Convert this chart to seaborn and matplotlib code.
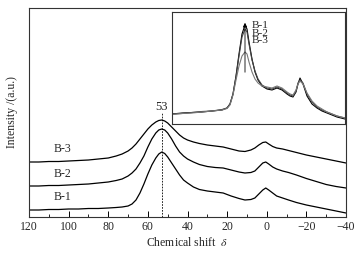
import numpy as np
import pandas as pd
import matplotlib
matplotlib.use("Agg")
import matplotlib.pyplot as plt
import seaborn as sns

# ---------------- data (main panel) ----------------
shift = [120, 115, 110, 105, 100, 95, 90, 85, 80,
         76, 73, 70, 68, 66, 64, 62, 60, 58, 56,
         54.5, 53, 51.5, 50, 48, 46, 44, 42, 40, 37,
         34, 30, 26, 22, 18, 14, 11, 8, 6, 4,
         2, 0.5, -1, -3, -5, -8, -11, -15, -20, -25,
         -30, -35, -40]
b1 = [7, 7, 7.5, 7.5, 8, 8, 8.5, 8.5, 9,
      9.5, 10, 11, 13, 17, 24, 33, 43, 52, 59,
      63, 65, 63.5, 60, 54, 48, 42, 37, 34, 30,
      27.5, 26, 25, 24, 21, 18.5, 17, 17.5, 19, 23,
      27, 29, 27, 24, 21, 19, 17, 14.5, 12, 10,
      8, 6, 4]
b2 = [31, 31, 31.5, 31.5, 32, 32.5, 33, 34, 35,
      36.5, 38, 41, 44, 48, 54, 61, 70, 78, 84,
      87, 88, 87, 84, 78, 71, 65, 61, 58, 55,
      52.5, 50.5, 49.5, 49, 47, 45, 44, 44.5, 46, 50,
      54, 55, 53, 50, 48, 46, 44.5, 42, 38.5, 35.5,
      32.5, 30.5, 29]
b3 = [55, 55, 55.5, 55.5, 56, 56.5, 57, 58, 59,
      61, 63, 66, 69, 73, 78, 83, 88, 92, 95,
      96.5, 97, 96, 94, 90, 86, 82, 79, 77, 75,
      73.5, 72, 71, 70, 68, 66, 65.5, 67, 69, 72,
      74.5, 75, 73, 70.5, 69, 68, 66.5, 64.5, 62, 60,
      58, 56, 54]
series_names = ["B-1", "B-2", "B-3"]
label_x = 103
label_y = [14, 37, 62]
peak_pos = 53
x_ticks = [120, 100, 80, 60, 40, 20, 0, -20, -40]
x_tick_labels = ["120", "100", "80", "60", "40", "20", "0", "\u221220", "\u221240"]

# ---------------- data (inset) ----------------
ins_x = [0, 10, 20, 30, 40, 50, 55, 58, 61, 64, 67, 70, 73, 75, 77, 80, 83, 86, 90, 95,
         100, 105, 110, 115, 118, 121, 124, 126, 128, 131, 135, 140, 145, 150, 155, 160, 165, 173]
ins_b1 = [10, 11, 11.5, 12, 13, 14, 16, 20, 30, 48, 70, 90, 99, 95, 82, 65, 52, 44, 38, 35,
          34, 36, 34, 30, 28, 27, 32, 40, 46, 40, 28, 20, 16, 13, 11, 9, 7, 5]
ins_b2 = [10, 10.5, 11.5, 12.5, 13, 14.5, 16, 20, 30, 47, 68, 87, 95, 92, 80, 64, 53, 45, 39, 36,
          35, 37, 35, 31, 29, 28, 33, 41, 44, 41, 30, 22, 17, 14, 12, 10, 8, 6]
ins_b3 = [9.5, 10.5, 11, 12, 13, 14, 15.5, 19, 29, 44, 58, 68, 72, 70, 62, 52, 45, 41, 38, 37,
          36, 38, 36, 32, 30, 29, 34, 40, 43, 40, 31, 23, 18, 15, 12, 10, 8, 6]
arrow_x = 73
arrow_y = [49, 104]
ins_label_x = 80
ins_label_y = 91

# ---------------- figure ----------------
sns.set_theme(style="ticks")
plt.rcParams["font.family"] = ["Liberation Serif", "DejaVu Serif"]
plt.rcParams["mathtext.fontset"] = "stix"

fig = plt.figure(figsize=(3.61, 2.54), dpi=100)
ax = fig.add_axes([29 / 361, 1 - 217 / 254, 317 / 361, 209 / 254])

df = pd.DataFrame({
    "shift": shift * 3,
    "intensity": b1 + b2 + b3,
    "sample": sum([[n] * len(shift) for n in series_names], []),
})
sns.lineplot(data=df, x="shift", y="intensity", units="sample", estimator=None,
             sort=False, color="black", lw=0.9, ax=ax, legend=False)

ax.set_xlim(120, -40)
ax.set_ylim(0, 209)
ax.set_xticks(x_ticks)
ax.set_xticklabels(x_tick_labels)
ax.set_xticks(np.arange(-40, 121, 10), minor=True)
ax.set_yticks([])
ax.tick_params(axis="x", which="major", direction="in", length=4, width=0.7,
               labelsize=8.5, pad=3, color="black")
ax.tick_params(axis="x", which="minor", direction="in", length=2.5, width=0.6, color="black")
for s in ax.spines.values():
    s.set_color("#333333")
    s.set_linewidth(0.8)
ax.set_xlabel("Chemical shift  $\\mathit{\\delta}$", fontsize=8.5, labelpad=2)
ax.set_ylabel("Intensity /(a.u.)", fontsize=8.5, labelpad=8)

ax.plot([peak_pos, peak_pos], [0, 104], ls=(0, (2, 1.5)), color="black", lw=0.6)
ax.text(peak_pos, 110, str(peak_pos), ha="center", va="center", fontsize=9)
for n, y in zip(series_names, label_y):
    ax.text(label_x, y, n, ha="center", va="bottom", fontsize=8.5)

# ---------------- inset ----------------
axi = fig.add_axes([172 / 361, 1 - 124 / 254, 173 / 361, 112 / 254])
dfi = pd.DataFrame({
    "x": ins_x * 3,
    "y": ins_b1 + ins_b2 + ins_b3,
    "sample": sum([[n] * len(ins_x) for n in series_names], []),
})
sns.lineplot(data=dfi, x="x", y="y", hue="sample", estimator=None, sort=False,
             palette=["black", "#444444", "#777777"], lw=0.8, ax=axi, legend=False)
axi.set_xlim(0, 173)
axi.set_ylim(0, 112)
axi.set_xticks([])
axi.set_yticks([])
axi.set_xlabel("")
axi.set_ylabel("")
for s in axi.spines.values():
    s.set_color("#333333")
    s.set_linewidth(0.8)
axi.annotate("", xy=(arrow_x, arrow_y[1]), xytext=(arrow_x, arrow_y[0]),
             arrowprops=dict(arrowstyle="-|>", color="black", lw=0.6,
                             mutation_scale=6))
axi.text(ins_label_x, ins_label_y, "\n".join(series_names), ha="left", va="center",
         fontsize=8.2, linespacing=0.78)

fig.savefig("out.png", dpi=100)
